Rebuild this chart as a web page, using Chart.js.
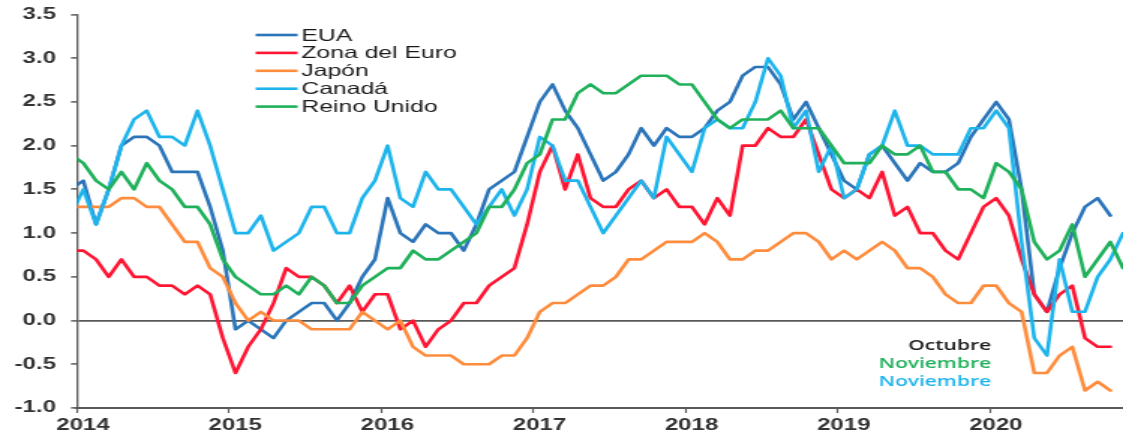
<!DOCTYPE html>
<html lang="es">
<head>
<meta charset="utf-8">
<title>Inflación</title>
<script src="https://cdn.jsdelivr.net/npm/chart.js@4.4.1/dist/chart.umd.min.js"></script>
<style>
    html, body { margin: 0; padding: 0; background: #fff; overflow: hidden; }
    /* the original picture is stretched sideways, so the canvas is too */
    #wrap { width: 749px; height: 435px; transform: scaleX(1.49933); transform-origin: 0 0; }
</style>
</head>
<body>
<div id="wrap"><canvas id="inflChart" width="749" height="435"></canvas></div>
<script>
// --- Data: annual % change, monthly. First value = Dic 2013, last = Nov 2020 ---
const yearLabels = ['2014', '2015', '2016', '2017', '2018', '2019', '2020'];
const yTicks = [-1.0, -0.5, 0.0, 0.5, 1.0, 1.5, 2.0, 2.5, 3.0, 3.5];

const eua = [1.5,
    1.6, 1.1, 1.5, 2.0, 2.1, 2.1, 2.0, 1.7, 1.7, 1.7, 1.3, 0.8,
    -0.1, 0.0, -0.1, -0.2, 0.0, 0.1, 0.2, 0.2, 0.0, 0.2, 0.5, 0.7,
    1.4, 1.0, 0.9, 1.1, 1.0, 1.0, 0.8, 1.1, 1.5, 1.6, 1.7, 2.1,
    2.5, 2.7, 2.4, 2.2, 1.9, 1.6, 1.7, 1.9, 2.2, 2.0, 2.2, 2.1,
    2.1, 2.2, 2.4, 2.5, 2.8, 2.9, 2.9, 2.7, 2.3, 2.5, 2.2, 1.9,
    1.6, 1.5, 1.9, 2.0, 1.8, 1.6, 1.8, 1.7, 1.7, 1.8, 2.1, 2.3,
    2.5, 2.3, 1.5, 0.3, 0.1, 0.6, 1.0, 1.3, 1.4, 1.2, null];

const zonaEuro = [0.8,
    0.8, 0.7, 0.5, 0.7, 0.5, 0.5, 0.4, 0.4, 0.3, 0.4, 0.3, -0.2,
    -0.6, -0.3, -0.1, 0.2, 0.6, 0.5, 0.5, 0.4, 0.2, 0.4, 0.1, 0.3,
    0.3, -0.1, 0.0, -0.3, -0.1, 0.0, 0.2, 0.2, 0.4, 0.5, 0.6, 1.1,
    1.7, 2.0, 1.5, 1.9, 1.4, 1.3, 1.3, 1.5, 1.6, 1.4, 1.5, 1.3,
    1.3, 1.1, 1.4, 1.2, 2.0, 2.0, 2.2, 2.1, 2.1, 2.3, 1.9, 1.5,
    1.4, 1.5, 1.4, 1.7, 1.2, 1.3, 1.0, 1.0, 0.8, 0.7, 1.0, 1.3,
    1.4, 1.2, 0.7, 0.3, 0.1, 0.3, 0.4, -0.2, -0.3, -0.3, null];

const japon = [1.3,
    1.3, 1.3, 1.3, 1.4, 1.4, 1.3, 1.3, 1.1, 0.9, 0.9, 0.6, 0.5,
    0.2, 0.0, 0.1, 0.0, 0.0, 0.0, -0.1, -0.1, -0.1, -0.1, 0.1, 0.0,
    -0.1, 0.0, -0.3, -0.4, -0.4, -0.4, -0.5, -0.5, -0.5, -0.4, -0.4, -0.2,
    0.1, 0.2, 0.2, 0.3, 0.4, 0.4, 0.5, 0.7, 0.7, 0.8, 0.9, 0.9,
    0.9, 1.0, 0.9, 0.7, 0.7, 0.8, 0.8, 0.9, 1.0, 1.0, 0.9, 0.7,
    0.8, 0.7, 0.8, 0.9, 0.8, 0.6, 0.6, 0.5, 0.3, 0.2, 0.2, 0.4,
    0.4, 0.2, 0.1, -0.6, -0.6, -0.4, -0.3, -0.8, -0.7, -0.8, null];

const canada = [1.2,
    1.5, 1.1, 1.5, 2.0, 2.3, 2.4, 2.1, 2.1, 2.0, 2.4, 2.0, 1.5,
    1.0, 1.0, 1.2, 0.8, 0.9, 1.0, 1.3, 1.3, 1.0, 1.0, 1.4, 1.6,
    2.0, 1.4, 1.3, 1.7, 1.5, 1.5, 1.3, 1.1, 1.3, 1.5, 1.2, 1.5,
    2.1, 2.0, 1.6, 1.6, 1.3, 1.0, 1.2, 1.4, 1.6, 1.4, 2.1, 1.9,
    1.7, 2.2, 2.3, 2.2, 2.2, 2.5, 3.0, 2.8, 2.2, 2.4, 1.7, 2.0,
    1.4, 1.5, 1.9, 2.0, 2.4, 2.0, 2.0, 1.9, 1.9, 1.9, 2.2, 2.2,
    2.4, 2.2, 0.9, -0.2, -0.4, 0.7, 0.1, 0.1, 0.5, 0.7, 1.0];

const reinoUnido = [1.9,
    1.8, 1.6, 1.5, 1.7, 1.5, 1.8, 1.6, 1.5, 1.3, 1.3, 1.1, 0.7,
    0.5, 0.4, 0.3, 0.3, 0.4, 0.3, 0.5, 0.4, 0.2, 0.2, 0.4, 0.5,
    0.6, 0.6, 0.8, 0.7, 0.7, 0.8, 0.9, 1.0, 1.3, 1.3, 1.5, 1.8,
    1.9, 2.3, 2.3, 2.6, 2.7, 2.6, 2.6, 2.7, 2.8, 2.8, 2.8, 2.7,
    2.7, 2.5, 2.3, 2.2, 2.3, 2.3, 2.3, 2.4, 2.2, 2.2, 2.2, 2.0,
    1.8, 1.8, 1.8, 2.0, 1.9, 1.9, 2.0, 1.7, 1.7, 1.5, 1.5, 1.4,
    1.8, 1.7, 1.5, 0.9, 0.7, 0.8, 1.1, 0.5, 0.7, 0.9, 0.6];

const seriesNames = ['EUA', 'Zona del Euro', 'Japón', 'Canadá', 'Reino Unido'];
const seriesColors = ['#2A74B9', '#FF1432', '#FF8C3C', '#1DB4EC', '#1FB05A'];
const notes = ['Octubre', 'Noviembre', 'Noviembre'];
const noteColors = ['#1a1a1a', '#1FB05A', '#1DB4EC'];

// x = months since Jan 2014, points sit in the middle of each month
function toPoints(values) {
    return values.map((v, k) => ({ x: k - 0.5, y: v }));
}

const AXIS = '#595959';
const TICK_FONT = { family: '"Liberation Sans", Arial, sans-serif', size: 16, weight: 'bold' };

// --- Legend drawn inside the plot, top left ---
const legendBox = {
    id: 'legendBox',
    afterDraw(chart) {
        const ctx = chart.ctx;
        ctx.save();
        ctx.font = '16.5px "Liberation Sans", Arial, sans-serif';
        ctx.textBaseline = 'middle';
        ctx.textAlign = 'left';
        chart.data.datasets.forEach((ds, i) => {
            const y = 35 + i * 17.9;
            ctx.strokeStyle = ds.borderColor;
            ctx.lineWidth = 2.6;
            ctx.beginPath();
            ctx.moveTo(170.5, y);
            ctx.lineTo(198.5, y);
            ctx.stroke();
            ctx.fillStyle = '#1a1a1a';
            ctx.fillText(ds.label, 201, y + 1);
        });
        ctx.restore();
    }
};

// --- Month notes, bottom right ---
const monthNotes = {
    id: 'monthNotes',
    afterDraw(chart) {
        const ctx = chart.ctx;
        const xs = chart.scales.x, ys = chart.scales.y;
        const right = xs.getPixelForValue(72.1);
        const top = ys.getPixelForValue(-0.29);
        ctx.save();
        ctx.font = '600 14px "Open Sans", sans-serif';
        ctx.textAlign = 'right';
        ctx.textBaseline = 'middle';
        notes.forEach((t, i) => {
            ctx.fillStyle = noteColors[i];
            ctx.fillText(t, right, top + i * 18);
        });
        ctx.restore();
    }
};

const series = [eua, zonaEuro, japon, canada, reinoUnido];

new Chart(document.getElementById('inflChart'), {
    type: 'line',
    data: {
        datasets: series.map((vals, i) => ({
            label: seriesNames[i],
            data: toPoints(vals),
            borderColor: seriesColors[i],
            borderWidth: 2.6,
            pointRadius: 0,
            tension: 0,
            borderJoinStyle: 'round',
            borderCapStyle: 'round',
            clip: 0,
            order: -i
        }))
    },
    options: {
        responsive: false,
        animation: false,
        layout: { padding: 0 },
        plugins: { legend: { display: false }, tooltip: { enabled: false } },
        scales: {
            x: {
                type: 'linear',
                min: 0,
                max: 82.5,
                afterBuildTicks: (scale) => {
                    scale.ticks = yearLabels.map((_, i) => ({ value: i * 12 }));
                },
                afterFit: (scale) => { scale.height = 27; },
                ticks: {
                    autoSkip: false,
                    maxRotation: 0,
                    padding: 3,
                    labelOffset: 4,
                    color: '#333',
                    font: TICK_FONT,
                    callback: (v) => yearLabels[Math.round(v / 12)]
                },
                grid: { drawOnChartArea: false, tickLength: 5, tickColor: AXIS, tickWidth: 1.2 },
                border: { display: true, color: AXIS, width: 2 }
            },
            y: {
                min: -1,
                max: 3.5,
                afterBuildTicks: (scale) => {
                    scale.ticks = yTicks.map(v => ({ value: v }));
                },
                afterFit: (scale) => {
                    scale.width = 51.36;
                    scale.paddingTop = 14.5;
                    scale.paddingBottom = 0;
                },
                ticks: {
                    padding: 10,
                    color: '#333',
                    font: TICK_FONT,
                    callback: (v) => Number(v).toFixed(1)
                },
                grid: {
                    color: (c) => (c.tick && c.tick.value === 0 ? AXIS : 'rgba(0,0,0,0)'),
                    lineWidth: 1.8,
                    tickColor: AXIS,
                    tickWidth: 1.5,
                    tickLength: 4
                },
                border: { display: true, color: AXIS, width: 1.3 }
            }
        }
    },
    plugins: [legendBox, monthNotes]
});
</script>
</body>
</html>
